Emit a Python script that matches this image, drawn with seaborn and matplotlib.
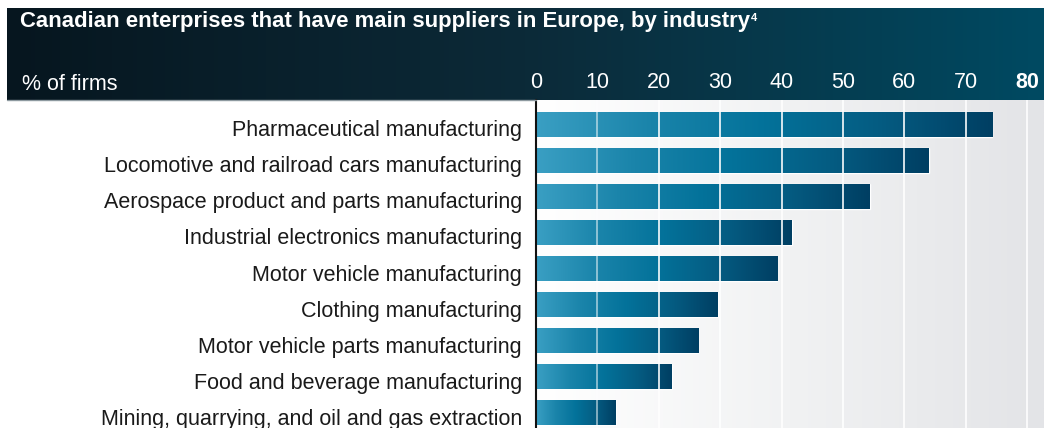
import numpy as np
import pandas as pd
import matplotlib
matplotlib.use("Agg")
import matplotlib.pyplot as plt
import matplotlib.transforms as mtransforms
import seaborn as sns
from matplotlib.colors import LinearSegmentedColormap

industries = [
    "Pharmaceutical manufacturing",
    "Locomotive and railroad cars manufacturing",
    "Aerospace product and parts manufacturing",
    "Industrial electronics manufacturing",
    "Motor vehicle manufacturing",
    "Clothing manufacturing",
    "Motor vehicle parts manufacturing",
    "Food and beverage manufacturing",
    "Mining, quarrying, and oil and gas extraction",
]
pct_firms = [74.3, 64.0, 54.4, 41.7, 39.3, 29.6, 26.4, 22.1, 13.0]
ticks = [0, 10, 20, 30, 40, 50, 60, 70, 80]

title = "Canadian enterprises that have main suppliers in Europe, by industry"
footnote = "4"
unit_label = "% of firms"

W, H = 1044, 428

sns.set_theme(style="white")
plt.rcParams['font.family'] = ['Liberation Sans', 'DejaVu Sans']

df = pd.DataFrame({"industry": industries, "pct": pct_firms})

fig = plt.figure(figsize=(W / 100, H / 100), dpi=100)

# header band
hdr = fig.add_axes([7 / W, 1 - 100 / H, 1 - 7 / W, 92 / H])
hdr_cmap = LinearSegmentedColormap.from_list("hdr", ["#06161f", "#0c2a38", "#004a62"])
hdr.imshow(np.linspace(0, 1, 256)[None, :], cmap=hdr_cmap, aspect="auto",
           extent=[0, 1, 0, 1])
hdr.set_xlim(0, 1)
hdr.set_ylim(0, 1)
hdr.axis("off")
title_txt = fig.text(20 / W, 1 - 27 / H, title, color="white", fontsize=15.9,
                     fontweight="bold", va="baseline", ha="left")
fig.text(22 / W, 1 - 90 / H, unit_label, color="white", fontsize=15.5,
         va="baseline", ha="left")
fig.add_artist(plt.Line2D([7 / W, 536 / W], [1 - 99.5 / H] * 2, color="#8e9aa0", lw=1))

# plot area
ax = fig.add_axes([536 / W, 0, 1 - 536 / W, 1 - 100 / H])
xmax = 80 + (1044 - 1027) / ((1027 - 536) / 80)
ymin, ymax = -0.68, 8.43

bg_cmap = LinearSegmentedColormap.from_list("bg", ["#ffffff", "#f1f2f3", "#e3e4e7"])
ax.imshow(np.linspace(0, 1, 256)[None, :], cmap=bg_cmap, aspect="auto",
          extent=[0, xmax, ymax, ymin], zorder=0)

sns.barplot(data=df, x="pct", y="industry", orient="h", width=0.69,
            color="#00668c", ax=ax, zorder=2)

bar_cmap = LinearSegmentedColormap.from_list(
    "bar", ["#3a9fc3", "#1a84aa", "#03729a", "#055c82", "#003f63"])
for p in ax.patches:
    x0, y0 = p.get_x(), p.get_y()
    w, h = p.get_width(), p.get_height()
    im = ax.imshow(np.linspace(0, 1, 256)[None, :], cmap=bar_cmap, aspect="auto",
                   extent=[x0, x0 + w, y0 + h, y0], zorder=3)
    im.set_clip_path(p)

for t in ticks[1:]:
    ax.axvline(t, color="white", lw=1.3, alpha=0.55 if t == 10 else 0.9, zorder=4)

ax.set_xlim(0, xmax)
ax.set_ylim(ymax, ymin)
ax.set_xlabel("")
ax.set_ylabel("")
ax.xaxis.tick_top()
ax.set_xticks(ticks)
ax.tick_params(axis="x", length=0, pad=4.7, labelsize=15.5, labelcolor="white")
ax.tick_params(axis="y", length=0, pad=10, labelsize=15.5, labelcolor="#1a1a1a")
ax.get_xticklabels()[-1].set_fontweight("bold")
shift = mtransforms.ScaledTranslation(0, -4 / 100, fig.dpi_scale_trans)
for lab in ax.get_yticklabels():
    lab.set_transform(lab.get_transform() + shift)
for s in ["top", "right", "bottom"]:
    ax.spines[s].set_visible(False)
ax.spines["left"].set_color("#111111")
ax.spines["left"].set_linewidth(1.5)
ax.spines["left"].set_zorder(5)

# footnote marker right after the title
fig.canvas.draw()
bb = title_txt.get_window_extent()
fig.text((bb.x1 + 1) / W, 1 - 21 / H, footnote, color="white", fontsize=8,
         fontweight="bold", va="baseline", ha="left")

fig.savefig("out.png", dpi=100)
